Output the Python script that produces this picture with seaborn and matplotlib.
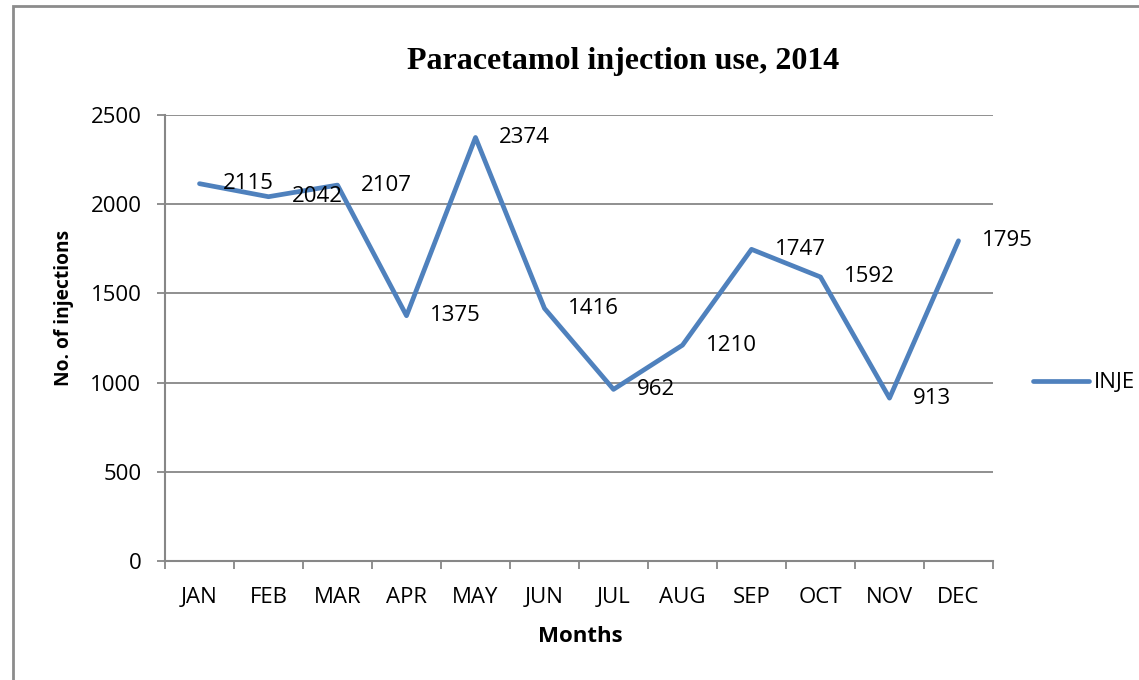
import matplotlib
matplotlib.use("Agg")
import matplotlib.pyplot as plt
import seaborn as sns
import pandas as pd
from matplotlib.patches import Rectangle
from matplotlib.ticker import FixedLocator, NullFormatter

months = ["JAN", "FEB", "MAR", "APR", "MAY", "JUN", "JUL", "AUG", "SEP", "OCT", "NOV", "DEC"]
injections = [2115, 2042, 2107, 1375, 2374, 1416, 962, 1210, 1747, 1592, 913, 1795]
y_ticks = [0, 500, 1000, 1500, 2000, 2500]
series_name = "INJE"

sns.set_theme(style="white")
plt.rcParams["font.family"] = ["Open Sans", "DejaVu Sans"]
plt.rcParams["text.color"] = "black"

W, H = 1139, 680
fig = plt.figure(figsize=(W / 100, H / 100), dpi=100)
ax = fig.add_axes([165 / W, 1 - 561 / H, (993 - 165) / W, (561 - 115) / H])

df = pd.DataFrame({"idx": range(len(months)), "val": injections})
line_color = "#4F81BD"
sns.lineplot(data=df, x="idx", y="val", ax=ax, color=line_color, linewidth=3.4,
             sort=False, label=series_name, legend=False)

ax.set_xlim(-0.5, len(months) - 0.5)
ax.set_ylim(0, 2500)
ax.set_yticks(y_ticks)
ax.set_yticklabels([str(v) for v in y_ticks])
ax.set_xticks(range(len(months)))
ax.set_xticklabels(months)
ax.xaxis.set_minor_locator(FixedLocator([i - 0.5 for i in range(len(months) + 1)]))
ax.xaxis.set_minor_formatter(NullFormatter())

grey = "#878787"
ax.grid(axis="y", color=grey, linewidth=1.3)
ax.set_axisbelow(True)
for s in ["top", "right"]:
    ax.spines[s].set_visible(False)
for s in ["left", "bottom"]:
    ax.spines[s].set_color(grey)
    ax.spines[s].set_linewidth(1.5)

ax.tick_params(axis="y", which="major", length=6, width=1.3, color=grey, direction="out",
               labelsize=16, pad=11, labelcolor="black", left=True)
ax.tick_params(axis="x", which="major", length=0, labelsize=16, pad=19, labelcolor="black")
ax.tick_params(axis="x", which="minor", length=6, width=1.3, color=grey, direction="out", bottom=True)

ax.set_xlabel("")
ax.set_ylabel("")

for i, v in enumerate(injections):
    ax.annotate(str(v), xy=(i, v), xytext=(17, 0), textcoords="offset points",
                ha="left", va="center", fontsize=16, color="black")

fig.text(623 / W, 1 - 62 / H, "Paracetamol injection use, 2014", ha="center", va="center",
         fontsize=23, fontweight="bold", family=["Liberation Serif", "DejaVu Serif"])
fig.text(64 / W, 1 - 308 / H, "No. of injections", ha="center", va="center", rotation=90,
         fontsize=13.8, fontweight="bold")
fig.text(580 / W, 1 - 636 / H, "Months", ha="center", va="center", fontsize=16, fontweight="bold")

# legend at the right edge
fig.legend(handles=ax.get_lines()[:1], labels=[series_name], loc="center left",
           bbox_to_anchor=(1033 / W, 1 - 383 / H), frameon=False, fontsize=16,
           handlelength=2.5, handletextpad=0.22, borderaxespad=0, borderpad=0)

# outer chart border
fig.patches.append(Rectangle((13 / W, -0.1), 1.2, 1 - 6 / H + 0.1, transform=fig.transFigure,
                             fill=False, edgecolor="#8c8c8c", linewidth=2, zorder=-1))

fig.savefig("out.png", dpi=100)
